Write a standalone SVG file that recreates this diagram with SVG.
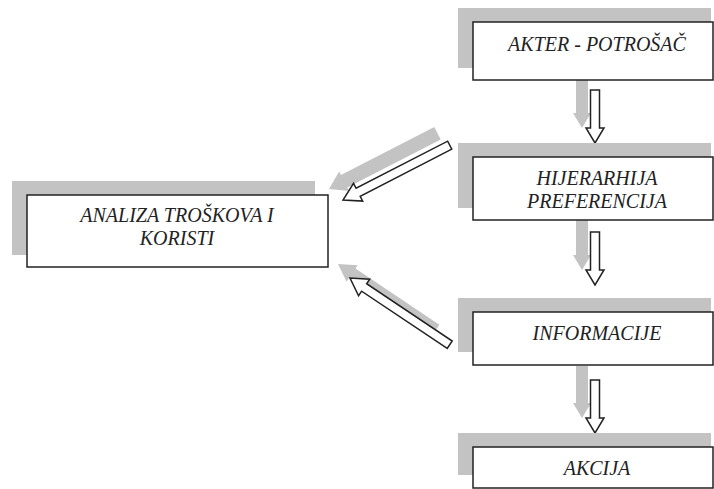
<svg xmlns="http://www.w3.org/2000/svg" width="714" height="489" viewBox="0 0 714 489">
<style>
.sh{fill:#c3c3c3}
.box{fill:#fff;stroke:#222;stroke-width:1.5}
.t{font-family:'Liberation Serif','Times New Roman',serif;font-style:italic;font-size:20px;fill:#222;text-anchor:middle}
.ga{fill:#c3c3c3}
.wa{fill:#fff;stroke:#222;stroke-width:1.5;stroke-linejoin:miter}
</style>
<rect width="714" height="489" fill="#fff"/>
<g id="connectors">
  <path class="ga" transform="translate(582,128) rotate(90)" d="M-52,-6 L-15,-6 L-15,-9 L0,0 L-15,9 L-15,6 L-52,6 Z"/>
  <path class="wa" transform="translate(595,143) rotate(90)" d="M-53,-4.5 L-15,-4.5 L-15,-9 L0,0 L-15,9 L-15,4.5 L-53,4.5 Z"/>
  <path class="ga" transform="translate(582,270) rotate(90)" d="M-52,-6 L-15,-6 L-15,-9 L0,0 L-15,9 L-15,6 L-52,6 Z"/>
  <path class="wa" transform="translate(595,285) rotate(90)" d="M-53,-4.5 L-15,-4.5 L-15,-9 L0,0 L-15,9 L-15,4.5 L-53,4.5 Z"/>
  <path class="ga" transform="translate(582,418) rotate(90)" d="M-52,-6 L-15,-6 L-15,-9 L0,0 L-15,9 L-15,6 L-52,6 Z"/>
  <path class="wa" transform="translate(595,433) rotate(90)" d="M-53,-4.5 L-15,-4.5 L-15,-9 L0,0 L-15,9 L-15,4.5 L-53,4.5 Z"/>
  <path class="ga" transform="translate(329,189) rotate(152.8)" d="M-122,-7 L-17,-7 L-17,-11 L0,0 L-17,11 L-17,7 L-122,7 Z"/>
  <path class="wa" transform="translate(343,200) rotate(152.8)" d="M-120,-4.5 L-17,-4.5 L-17,-10 L0,0 L-17,10 L-17,4.5 L-120,4.5 Z"/>
  <path class="ga" transform="translate(338,264) rotate(213.8)" d="M-118,-6 L-17,-6 L-17,-10 L0,0 L-17,10 L-17,6 L-118,6 Z"/>
  <path class="wa" transform="translate(350,278) rotate(213.8)" d="M-120,-4.5 L-17,-4.5 L-17,-10 L0,0 L-17,10 L-17,4.5 L-120,4.5 Z"/>
</g>
<g id="akter">
  <rect class="sh" x="458" y="8" width="253" height="60"/>
  <rect class="box" x="473" y="22" width="240" height="58"/>
  <text class="t" x="597" y="51">AKTER - POTROŠAČ</text>
</g>
<g id="hijerarhija">
  <rect class="sh" x="458" y="143" width="253" height="65"/>
  <rect class="box" x="473" y="157" width="240" height="63"/>
  <text class="t" x="597" y="185">HIJERARHIJA</text>
  <text class="t" x="597" y="208">PREFERENCIJA</text>
</g>
<g id="informacije">
  <rect class="sh" x="458" y="298" width="253" height="54"/>
  <rect class="box" x="473" y="312" width="240" height="53"/>
  <text class="t" x="597" y="340">INFORMACIJE</text>
</g>
<g id="akcija">
  <rect class="sh" x="458" y="433" width="253" height="42"/>
  <rect class="box" x="473" y="447" width="240" height="41"/>
  <text class="t" x="597" y="475">AKCIJA</text>
</g>
<g id="analiza">
  <rect class="sh" x="12" y="181" width="303" height="74"/>
  <rect class="box" x="27" y="195" width="301" height="72"/>
  <text class="t" x="177" y="222">ANALIZA TROŠKOVA I</text>
  <text class="t" x="177" y="245">KORISTI</text>
</g>
</svg>
